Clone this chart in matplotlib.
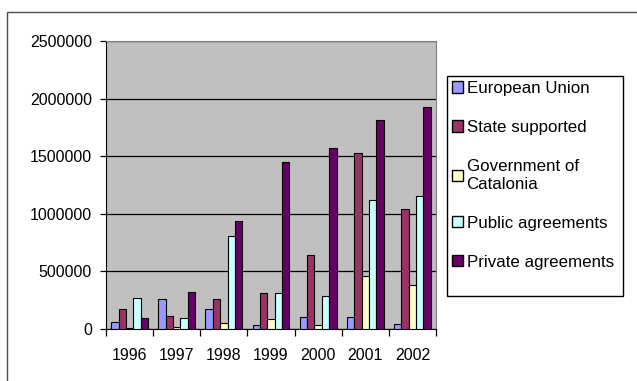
import numpy as np
import matplotlib.pyplot as plt
from matplotlib.patches import Rectangle

plt.rcParams['font.family'] = ['Liberation Sans', 'DejaVu Sans']

years = ['1996', '1997', '1998', '1999', '2000', '2001', '2002']
european_union = [63000, 261000, 171000, 35000, 107000, 102000, 41000]
state_supported = [174000, 116000, 261000, 316000, 639000, 1530000, 1045000]
gov_catalonia = [5000, 15000, 55000, 84000, 35000, 462000, 386000]
public_agreements = [267000, 96000, 810000, 313000, 287000, 1124000, 1152000]
private_agreements = [93000, 325000, 941000, 1450000, 1570000, 1810000, 1930000]

series = [european_union, state_supported, gov_catalonia, public_agreements, private_agreements]
labels = ['European Union', 'State supported', 'Government of\nCatalonia',
          'Public agreements', 'Private agreements']
colors = ['#9999FF', '#993366', '#FFFFCC', '#CCFFFF', '#660066']

W, H = 637, 381
fig = plt.figure(figsize=(W / 100, H / 100), dpi=100)

# outer chart border (right/bottom edges fall outside the picture)
fig.patches.append(Rectangle((7 / W, -0.05), 1.0, 1 - 12 / H + 0.05, transform=fig.transFigure,
                             fill=False, edgecolor='#505050', linewidth=1))
# legend frame
fig.patches.append(Rectangle((447 / W, 1 - 296 / H), 176 / W, 220 / H, transform=fig.transFigure,
                             fill=False, edgecolor='black', linewidth=1))

ax = fig.add_axes([106 / W, 1 - 329 / H, 330 / W, 288 / H])
ax.set_facecolor('#C0C0C0')

x = np.arange(len(years))
w = 0.156
for i, (vals, col, lab) in enumerate(zip(series, colors, labels)):
    ax.bar(x + (i - 2) * w, vals, w, color=col, edgecolor='black', linewidth=0.8,
           label=lab, zorder=3)

ax.set_xlim(-0.5, len(years) - 0.5)
ax.set_ylim(0, 2500000)
ax.set_yticks(range(0, 2500001, 500000))
ax.set_yticklabels([str(v) for v in range(0, 2500001, 500000)], fontsize=11.5)
ax.yaxis.grid(True, color='black', linewidth=0.9, zorder=0)
ax.set_axisbelow(True)

ax.set_xticks(x)
ax.set_xticklabels(years, fontsize=11.5)
ax.tick_params(axis='x', length=0, pad=14)
ax.set_xticks(np.arange(-0.5, len(years)), minor=True)
ax.tick_params(axis='x', which='minor', length=5, direction='out', width=0.9)
ax.tick_params(axis='y', length=4, direction='out', width=0.9, pad=6)

for s in ['top', 'right']:
    ax.spines[s].set_color('#808080')
for s in ['left', 'bottom']:
    ax.spines[s].set_color('black')

leg = fig.legend(loc='upper left', bbox_to_anchor=(452 / W, 1 - 81 / H),
                 fontsize=12.2, frameon=False,
                 handlelength=0.66, handleheight=0.66, handletextpad=0.2,
                 labelspacing=1.42, borderpad=0, borderaxespad=0)
for p in leg.get_patches():
    p.set_linewidth(1)

plt.savefig('out.png', dpi=100)
